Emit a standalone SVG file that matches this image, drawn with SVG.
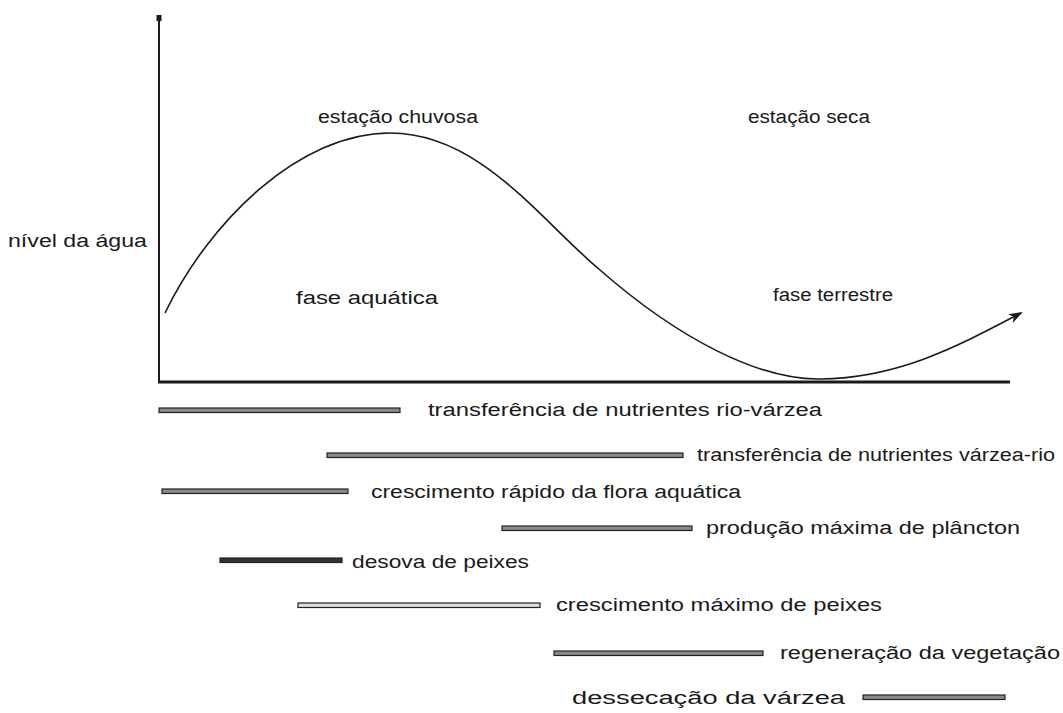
<svg xmlns="http://www.w3.org/2000/svg" width="1063" height="713" viewBox="0 0 1063 713">
<style>
text{font-family:"Liberation Sans",Arial,sans-serif;font-size:18px;fill:#1a1a1a}
.bar{fill:#8a8a8a;stroke:#222;stroke-width:1.2}
.axis{stroke:#1a1a1a;fill:none}
</style>
<defs>
<marker id="arr" markerWidth="14" markerHeight="10" refX="12" refY="5" orient="auto" markerUnits="userSpaceOnUse">
<path d="M0,0 L14,5 L0,10 L4,5 Z" fill="#1a1a1a"/>
</marker>
</defs>
<rect width="1063" height="713" fill="#fff"/>
<g id="connectors">
<line class="axis" x1="159" y1="18" x2="159" y2="383" stroke-width="2"/>
<rect x="156.5" y="15" width="5" height="6" fill="#1a1a1a"/>
<line class="axis" x1="158" y1="382" x2="1010" y2="382" stroke-width="3"/>
<path class="axis" stroke-width="1.6" d="M165,313 C210,220 300,133 390,133 C480,133 540,220 600,270 C680,340 760,380 820,379 C900,378 960,345 1021,313" marker-end="url(#arr)"/>
</g>
<g id="labels">
<text x="318" y="123" textLength="160" lengthAdjust="spacingAndGlyphs">estação chuvosa</text>
<text x="748" y="123" textLength="122" lengthAdjust="spacingAndGlyphs">estação seca</text>
<text x="8" y="247" textLength="139" lengthAdjust="spacingAndGlyphs">nível da água</text>
<text x="296" y="304" textLength="142" lengthAdjust="spacingAndGlyphs">fase aquática</text>
<text x="773" y="301" textLength="120" lengthAdjust="spacingAndGlyphs">fase terrestre</text>
</g>
<g id="bar1"><rect class="bar" x="159" y="408" width="241" height="4.5"/><text x="428" y="416" textLength="394" lengthAdjust="spacingAndGlyphs">transferência de nutrientes rio-várzea</text></g>
<g id="bar2"><rect class="bar" x="327" y="453" width="356" height="4.5"/><text x="697" y="461" textLength="358" lengthAdjust="spacingAndGlyphs">transferência de nutrientes várzea-rio</text></g>
<g id="bar3"><rect class="bar" x="162" y="489" width="186" height="4.5"/><text x="371" y="498" textLength="370" lengthAdjust="spacingAndGlyphs">crescimento rápido da flora aquática</text></g>
<g id="bar4"><rect class="bar" x="502" y="526" width="190" height="4.5"/><text x="706" y="534" textLength="314" lengthAdjust="spacingAndGlyphs">produção máxima de plâncton</text></g>
<g id="bar5"><rect class="bar" x="220" y="558" width="122" height="4.5" style="fill:#333"/><text x="352" y="568" textLength="177" lengthAdjust="spacingAndGlyphs">desova de peixes</text></g>
<g id="bar6"><rect class="bar" x="298" y="603" width="242" height="4.5" style="fill:#ddd"/><text x="556" y="611" textLength="326" lengthAdjust="spacingAndGlyphs">crescimento máximo de peixes</text></g>
<g id="bar7"><rect class="bar" x="554" y="651" width="209" height="4.5"/><text x="780" y="659" textLength="280" lengthAdjust="spacingAndGlyphs">regeneração da vegetação</text></g>
<g id="bar8"><rect class="bar" x="863" y="695" width="142" height="4.5"/><text x="572" y="704" textLength="273" lengthAdjust="spacingAndGlyphs">dessecação da várzea</text></g>
</svg>
